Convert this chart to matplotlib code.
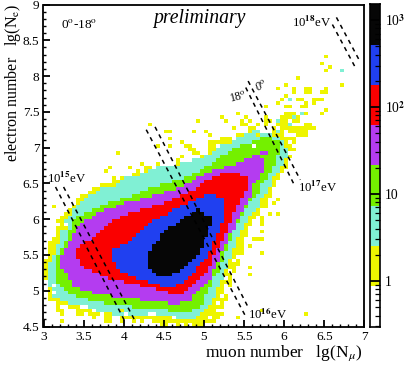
import numpy as np
import matplotlib
matplotlib.use("Agg")
import matplotlib.pyplot as plt
from matplotlib.colors import ListedColormap, BoundaryNorm

plt.rcParams['font.family'] = ['Liberation Serif', 'DejaVu Serif']
plt.rcParams['mathtext.fontset'] = 'stix'

W, H = 406, 367
# rows: (lower edge lg Ne, first lg Nmu, last lg Nmu); a row may hold several runs
yellow_rows = [(4.50,4.45,4.55),(4.50,4.65,5.00),(4.50,5.05,5.12),(4.55,3.78,3.85),(4.55,3.95,4.00),(4.55,4.10,4.15),(4.55,4.20,4.30),(4.55,4.35,5.15),(4.60,3.60,3.65),(4.60,3.75,3.85),(4.60,3.95,5.20),(4.65,3.20,3.27),(4.65,3.42,3.48),(4.65,3.55,5.25),(4.70,3.15,3.25),(4.70,3.35,5.25),(4.75,3.12,5.30),(4.80,3.08,5.30),(4.85,3.05,5.30),(4.90,3.05,5.30),(4.95,3.05,5.30),(5.00,3.03,5.32),(5.05,3.03,5.35),(5.10,3.03,5.35),(5.15,3.00,5.37),(5.20,3.00,5.37),(5.25,3.00,5.40),(5.30,3.00,5.42),(5.35,3.00,5.43),(5.40,3.00,5.45),(5.45,3.03,5.45),(5.50,3.03,5.47),(5.55,3.03,5.50),(5.60,3.05,5.50),(5.65,3.07,5.52),(5.70,3.10,5.55),(5.75,3.10,5.55),(5.80,3.13,5.55),(5.85,3.17,5.57),(5.90,3.20,5.60),(5.95,3.20,5.62),(6.00,3.20,5.65),(6.05,3.27,5.68),(6.10,3.30,5.72),(6.15,3.35,5.75),(6.20,3.40,5.80),(6.25,3.42,5.80),(6.30,3.47,5.83),(6.35,3.55,5.85),(6.40,3.60,5.85),(6.45,3.70,5.90),(6.50,3.85,5.90),(6.55,3.97,5.95),(6.60,4.10,5.97),(6.65,4.15,6.00),(6.70,4.50,6.05),(6.75,4.65,6.05),(6.80,4.85,6.05),(6.85,4.95,6.10),(6.90,4.83,4.95),(6.90,5.05,6.10),(6.95,4.80,4.90),(6.95,5.05,5.13),(6.95,5.30,6.15),(7.00,5.05,5.17),(7.00,5.35,6.12),(7.05,5.05,5.33),(7.05,5.40,6.17),(7.10,5.22,5.37),(7.10,5.40,6.17),(7.15,5.40,5.98),(7.15,6.15,6.30),(7.20,5.55,5.68),(7.20,5.83,6.00),(7.20,6.05,6.30),(7.25,5.53,5.65),(7.25,5.83,5.92),(7.25,5.95,6.38),(7.30,5.45,5.53),(7.30,5.65,5.70),(7.30,5.75,5.80),(7.30,5.90,6.12),(7.30,6.23,6.33),(7.35,5.75,5.85),(7.35,5.97,6.05),(7.35,6.10,6.22),(7.40,5.75,5.80),(7.40,5.97,6.20),(7.45,6.00,6.15),(7.45,6.23,6.28),(7.55,6.00,6.08),(7.55,6.20,6.25),(7.65,5.93,5.98),(7.65,6.15,6.25),(7.65,6.35,6.40)]
cyan_rows = [(4.60,4.60,4.90),(4.65,3.85,4.97),(4.70,3.65,5.02),(4.75,3.55,5.05),(4.80,3.30,5.08),(4.85,3.20,5.10),(4.90,3.12,5.13),(4.95,3.10,5.15),(5.00,3.08,5.17),(5.05,3.07,5.20),(5.10,3.05,5.22),(5.15,3.05,5.23),(5.20,3.05,5.25),(5.25,3.05,5.27),(5.30,3.05,5.28),(5.35,3.05,5.30),(5.40,3.10,5.32),(5.45,3.12,5.33),(5.50,3.13,5.35),(5.55,3.15,5.37),(5.60,3.17,5.38),(5.65,3.18,5.40),(5.70,3.20,5.42),(5.75,3.22,5.43),(5.80,3.22,5.45),(5.85,3.23,5.50),(5.90,3.24,5.52),(5.95,3.25,5.55),(6.00,3.30,5.55),(6.05,3.33,5.60),(6.10,3.35,5.65),(6.15,3.38,5.68),(6.20,3.43,5.70),(6.25,3.50,5.72),(6.30,3.55,5.75),(6.35,3.63,5.80),(6.40,3.72,5.82),(6.45,3.90,5.83),(6.50,3.93,5.85),(6.55,4.00,5.87),(6.60,4.20,5.90),(6.65,4.30,5.95),(6.70,4.40,5.97),(6.75,4.70,6.00),(6.80,4.85,6.00),(6.85,5.00,6.03),(6.90,5.12,6.03),(6.95,5.17,6.03),(7.00,5.20,5.98),(7.05,5.35,5.98),(7.10,5.40,5.95),(7.15,5.50,5.65),(7.15,5.70,5.85),(7.20,5.62,5.72),(7.22,5.90,5.95),(7.30,6.03,6.07),(7.35,5.92,5.97),(7.42,6.08,6.12),(7.47,6.20,6.24),(7.65,6.05,6.08)]
green_rows = [(4.70,4.55,4.85),(4.75,4.10,4.93),(4.80,3.75,4.98),(4.85,3.55,5.00),(4.90,3.42,5.02),(4.95,3.30,5.05),(5.00,3.25,5.05),(5.05,3.20,5.08),(5.10,3.17,5.10),(5.15,3.15,5.12),(5.20,3.13,5.15),(5.25,3.13,5.18),(5.30,3.13,5.20),(5.35,3.13,5.22),(5.40,3.15,5.23),(5.45,3.17,5.25),(5.50,3.20,5.27),(5.55,3.22,5.28),(5.60,3.25,5.30),(5.65,3.27,5.32),(5.70,3.28,5.33),(5.75,3.30,5.35),(5.80,3.32,5.37),(5.85,3.34,5.40),(5.90,3.35,5.42),(5.95,3.37,5.43),(6.00,3.42,5.45),(6.05,3.50,5.48),(6.10,3.58,5.50),(6.15,3.68,5.53),(6.20,3.80,5.55),(6.25,3.95,5.60),(6.30,4.10,5.65),(6.35,4.20,5.68),(6.40,4.30,5.70),(6.45,4.45,5.72),(6.50,4.60,5.75),(6.55,4.75,5.78),(6.60,4.85,5.82),(6.65,4.95,5.85),(6.70,5.02,5.87),(6.75,5.08,5.88),(6.80,5.15,5.90),(6.85,5.22,5.92),(6.90,5.30,5.95),(6.95,5.37,5.95),(7.00,5.45,5.95),(7.05,5.62,5.93),(7.10,5.72,5.87)]
purple_rows = [(4.80,4.55,4.70),(4.85,4.20,4.83),(4.90,3.85,4.87),(4.95,3.60,4.90),(5.00,3.45,4.97),(5.05,3.37,5.00),(5.10,3.33,5.05),(5.15,3.30,5.08),(5.20,3.28,5.10),(5.25,3.25,5.12),(5.30,3.20,5.15),(5.35,3.20,5.17),(5.40,3.20,5.18),(5.45,3.22,5.18),(5.50,3.25,5.20),(5.55,3.27,5.23),(5.60,3.28,5.25),(5.65,3.30,5.28),(5.70,3.33,5.30),(5.75,3.35,5.32),(5.80,3.38,5.35),(5.85,3.40,5.38),(5.90,3.45,5.40),(5.95,3.52,5.42),(6.00,3.58,5.43),(6.05,3.65,5.47),(6.10,3.75,5.50),(6.15,3.88,5.52),(6.20,4.00,5.53),(6.25,4.20,5.55),(6.30,4.35,5.58),(6.35,4.50,5.60),(6.40,4.65,5.60),(6.45,4.75,5.62),(6.50,4.85,5.65),(6.55,4.92,5.70),(6.60,5.02,5.70),(6.65,5.12,5.73),(6.70,5.25,5.75),(6.75,5.40,5.75),(6.80,5.50,5.75),(6.85,5.62,5.72),(6.90,5.70,5.80)]
red_rows = [(4.95,4.55,4.75),(5.00,4.40,4.82),(5.05,4.20,4.87),(5.10,4.00,4.90),(5.15,3.82,4.96),(5.20,3.70,5.00),(5.25,3.60,5.03),(5.30,3.50,5.07),(5.35,3.47,5.08),(5.40,3.45,5.10),(5.45,3.42,5.12),(5.50,3.40,5.14),(5.55,3.40,5.17),(5.60,3.45,5.18),(5.65,3.52,5.22),(5.70,3.60,5.23),(5.75,3.65,5.27),(5.80,3.70,5.28),(5.85,3.75,5.30),(5.90,3.80,5.32),(5.95,3.85,5.33),(6.00,3.95,5.35),(6.05,4.05,5.37),(6.10,4.20,5.40),(6.15,4.35,5.42),(6.20,4.50,5.43),(6.25,4.60,5.47),(6.30,4.70,5.48),(6.35,4.80,5.50),(6.40,4.88,5.53),(6.45,4.95,5.55),(6.50,5.00,5.55),(6.55,5.10,5.53),(6.60,5.20,5.45)]
blue_rows = [(5.05,4.45,4.65),(5.10,4.30,4.75),(5.15,4.15,4.80),(5.20,4.05,4.85),(5.25,3.95,4.88),(5.30,3.92,4.92),(5.35,3.90,4.97),(5.40,3.85,5.00),(5.45,3.84,5.03),(5.50,3.84,5.05),(5.55,3.87,5.08),(5.60,3.95,5.10),(5.65,4.05,5.12),(5.70,4.10,5.13),(5.75,4.15,5.15),(5.80,4.20,5.18),(5.85,4.25,5.20),(5.90,4.30,5.22),(5.95,4.35,5.23),(6.00,4.45,5.25),(6.05,4.55,5.27),(6.10,4.60,5.27),(6.15,4.70,5.27),(6.20,4.80,5.27),(6.25,4.90,5.25),(6.30,5.00,5.15)]
black_rows = [(5.20,4.40,4.60),(5.25,4.35,4.68),(5.30,4.30,4.75),(5.35,4.28,4.80),(5.40,4.28,4.86),(5.45,4.28,4.90),(5.50,4.30,4.94),(5.55,4.33,4.97),(5.60,4.35,5.00),(5.65,4.40,5.00),(5.70,4.43,5.02),(5.75,4.45,5.03),(5.80,4.50,5.05),(5.85,4.55,5.07),(5.90,4.65,5.08),(5.95,4.72,5.08),(6.00,4.77,5.08),(6.05,4.87,5.00),(6.10,4.90,4.95)]
level_rows = [yellow_rows, cyan_rows, green_rows, purple_rows, red_rows, blue_rows, black_rows]
level_counts = [1, 4, 12, 35, 100, 300, 800]

extra_yellow = [(4.33,7.33),(4.5,7.22),(4.58,7.22),(4.58,7.14),(4.7,7.08),(4.58,7.02),(4.77,7.02),(4.81,7.02),(4.86,7.22),(4.93,7.37),(5.02,7.22),(5.09,7.16),(5.22,7.43),(5.42,7.49),(5.3,7.37),(5.54,7.43),(5.45,7.37),(5.58,7.37),(5.37,7.28),(4.72,6.87),(4.68,6.81),(4.4,7.02),(3.93,6.93),(6.54,8.27),(6.46,8.19),(6.59,8.13),(6.54,8.08),(6.18,7.98),(6.74,7.88),(6.03,7.88),(5.94,7.84),(6.27,7.85),(6.27,7.8),(6.27,7.77),(6.33,7.85),(6.33,7.8),(6.14,7.81),(6.14,7.77),(6.51,7.84),(6.45,7.78),(6.55,7.78),(6.03,7.72),(6.43,7.68),(6.48,7.68),(5.94,7.64),(6.39,7.63),(6.3,7.64),(6.3,7.57),(6.5,7.53),(6.45,7.49),(5.79,7.57),(5.94,6.28),(5.87,6.22),(5.78,6.17),(5.83,6.08),(5.9,6.08),(5.7,6.0),(5.7,5.97),(5.74,5.93),(5.74,5.83),(5.64,5.73),(5.69,5.73),(5.74,5.73),(5.58,5.62),(5.49,5.57),(5.49,5.5),(5.7,5.52),(5.58,5.33),(5.58,5.23),(6.3,4.67),(5.74,4.72),(5.4,4.63),(3.14,6.18),(3.21,6.0),(3.16,5.96),(3.25,5.87),(3.21,4.57),(3.83,4.63),(3.8,4.56),(3.96,4.72),(3.75,6.65),(3.83,6.72),(3.9,6.6),(4.0,6.62),(4.1,6.72),(4.2,6.8),(4.25,6.72),(4.35,6.72),(4.4,6.75)]
extra_cyan = [(6.7,8.08)]
white_holes = [(3.25,5.9),(3.55,6.45),(4.05,6.62),(4.2,6.67),(5.3,5.1),(5.35,5.3),(4.33,4.65),(4.38,4.65),(4.62,4.62),(4.7,4.55),(4.85,4.55),(5.0,4.55),(5.1,4.62),(5.2,4.72),(3.5,4.75),(3.7,4.65),(3.9,4.6),(4.05,4.65),(4.15,4.6),(4.3,4.6),(4.4,4.55),(3.15,4.95),(3.1,5.1),(5.08,4.55),(5.15,4.7),(5.28,4.85),(5.28,5.0),(6.07,6.92),(5.5,7.2),(5.62,7.05),(6.1,7.1),(3.05,4.9),(3.1,4.85),(3.15,4.8),(3.2,4.75),(3.3,4.75),(3.25,4.8),(3.4,4.7),(3.45,4.75),(3.6,4.7),(5.2,4.6),(5.25,4.8),(5.22,4.9),(5.25,4.95),(5.18,4.82),(5.3,5.15),(5.37,5.4),(5.42,5.45),(5.52,5.7),(3.0,5.45),(3.05,5.6),(3.1,5.75)]

band_15_a = [(3.15,6.45),(4.02,4.56)]
band_15_b = [(3.25,6.45),(4.15,4.56)]
band_16_a = [(4.28,7.25),(5.51,4.66)]
band_16_b = [(4.39,7.29),(5.55,4.77)]
band_17_a = [(5.52,7.84),(6.12,6.49)]
band_17_b = [(5.55,7.93),(6.2,6.55)]
band_18_a = [(6.6,8.72),(6.9,8.09)]
band_18_b = [(6.65,8.82),(6.95,8.19)]
bands = [band_15_a, band_15_b, band_16_a, band_16_b, band_17_a, band_17_b, band_18_a, band_18_b]

level_bounds = [0.295, 0.88, 2.5, 7.3, 21.5, 62, 178, 516, 1510]
level_colors = ['#ffffff', '#eef500', '#80f0d4', '#74f000', '#b43cf0', '#fa0000', '#2040f0', '#060606']

DX = DY = 0.05
x_edges = 3 + DX * np.arange(81)
y_edges = 4.5 + DY * np.arange(91)
counts = np.full((90, 80), 0.5)
for rows, c in zip(level_rows, level_counts):
    for y, a, b in rows:
        j = int(round((y - 4.5) / DY))
        i0, i1 = int(round((a - 3) / DX)), int(round((b - 3) / DX))
        counts[j, max(i0, 0):min(max(i1, i0 + 1), 80)] = c
for x, y in extra_yellow:
    counts[int((y - 4.5) / DY), int((x - 3) / DX)] = 1
for x, y in extra_cyan:
    counts[int((y - 4.5) / DY), int((x - 3) / DX)] = 4
for x, y in white_holes:
    counts[int((y - 4.5) / DY), int((x - 3) / DX)] = 0.5

cmap = ListedColormap(level_colors)
norm = BoundaryNorm(level_bounds, cmap.N)

fig = plt.figure(figsize=(W / 100, H / 100), dpi=100)
ax = fig.add_axes([43.5 / W, 1 - 326.5 / H, 321 / W, 322 / H])
ax.pcolormesh(x_edges, y_edges, counts, cmap=cmap, norm=norm, linewidth=0, rasterized=True)
ax.set_xlim(3, 7)
ax.set_ylim(4.5, 9)
ax.set_xticks([3, 3.5, 4, 4.5, 5, 5.5, 6, 6.5, 7])
ax.set_xticklabels(['3', '3.5', '4', '4.5', '5', '5.5', '6', '6.5', '7'])
ax.set_yticks([4.5, 5, 5.5, 6, 6.5, 7, 7.5, 8, 8.5, 9])
ax.set_yticklabels(['4.5', '5', '5.5', '6', '6.5', '7', '7.5', '8', '8.5', '9'])
ax.set_xticks(np.arange(3, 7.01, 0.1), minor=True)
ax.set_yticks(np.arange(4.5, 9.01, 0.1), minor=True)
ax.tick_params(which='major', direction='in', length=5, width=1.3, labelsize=9.6, pad=3)
ax.tick_params(which='minor', direction='in', length=2.5, width=1.0)
for s in ax.spines.values():
    s.set_linewidth(1.3)

for band in bands:
    xs, ys = zip(*band)
    ax.plot(xs, ys, color='black', lw=1.1, dashes=(2.8, 2.8), zorder=5)

fig.text(13 / W, 1 - 83 / H, 'electron number   lg(N$_{\\mathrm{e}}$)', rotation=90, fontsize=11.5, ha='center', va='center')
fig.text(284 / W, 1 - 353 / H, 'muon number   lg(N$_{\\mu}$)', fontsize=12.6, ha='center', va='center')

def label(px, py, s, **kw):
    fig.text(px / W, 1 - py / H, s, ha='center', va='center', **kw)

label(79, 25, '0$^{\\mathrm{o}}$-18$^{\\mathrm{o}}$', fontsize=9.5)
label(199, 18, 'preliminary', fontsize=14.2, style='italic')
label(312, 22, '10$^{\\mathbf{18}}$eV', fontsize=9.2)
label(67, 178, '10$^{\\mathbf{15}}$eV', fontsize=9.2)
label(268, 314, '10$^{\\mathbf{16}}$eV', fontsize=9.2)
label(318, 187, '10$^{\\mathbf{17}}$eV', fontsize=9.2)
label(238, 98, '18$^{\\mathrm{o}}$', fontsize=8.5, rotation=15)
label(262, 87, '0$^{\\mathrm{o}}$', fontsize=8.5, rotation=30, style='italic')

cax = fig.add_axes([370.5 / W, 1 - 327 / H, 10 / W, 322.5 / H])
cax.set_yscale('log')
cax.set_ylim(level_bounds[0], level_bounds[-1])
cax.set_xlim(0, 1)
cax.pcolormesh([0, 1], level_bounds, np.array(level_bounds[:-1])[:, None] * 1.01, cmap=cmap, norm=norm)
cax.set_xticks([])
cax.yaxis.tick_right()
cax.set_yticks([1, 10, 100, 1000])
cax.set_yticklabels(['1', '10', '10$^{\\mathbf{2}}$', '10$^{\\mathbf{3}}$'])
cax.set_yticks([m * d for d in [0.1, 1, 10, 100] for m in range(2, 10) if 0.295 < m * d < 1510], minor=True)
cax.set_yticklabels([], minor=True)
cax.tick_params(which='major', direction='in', length=7.2, width=1.3, labelsize=9.8, pad=3)
cax.tick_params(which='minor', direction='in', length=3.6, width=0.9)
for s in cax.spines.values():
    s.set_linewidth(1.2)

fig.savefig('out.png', dpi=100)
